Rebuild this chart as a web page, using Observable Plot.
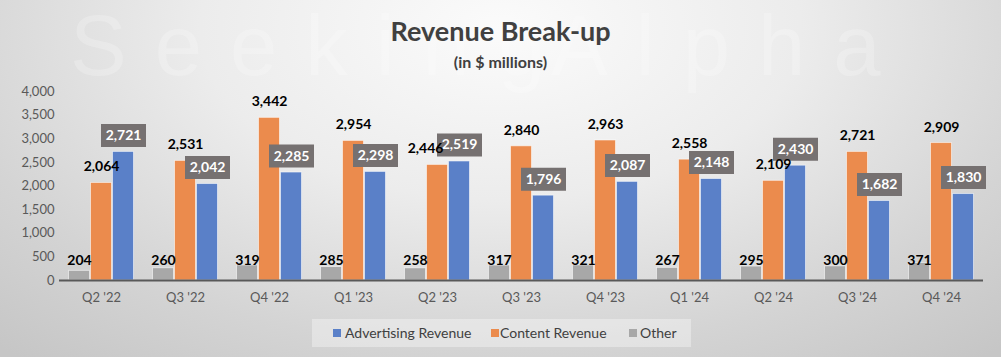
<!DOCTYPE html>
<html><head><meta charset="utf-8">
<script src="https://cdn.jsdelivr.net/npm/d3@7"></script>
<script src="https://cdn.jsdelivr.net/npm/@observablehq/plot@0.6"></script>
<style>
body{margin:0;}
#wrap{position:relative;width:1001px;height:357px;overflow:hidden;
 background:radial-gradient(ellipse 75% 120% at 50% 8%, #fbfbfb 0%, #ececec 40%, #d4d4d4 75%, #c6c6c6 100%);
 font-family:Lato,"Open Sans",sans-serif;}
#wm{position:absolute;left:70px;top:3px;font-family:"Liberation Sans",Arial,sans-serif;font-size:85px;letter-spacing:28px;word-spacing:-69px;line-height:85px;color:rgba(255,255,255,0.22);white-space:nowrap;}
#title{position:absolute;left:0;width:1001px;top:16px;text-align:center;font-weight:bold;font-size:27px;color:#404040;line-height:30px;}
#sub{position:absolute;left:0;width:1001px;top:51px;text-align:center;font-weight:bold;font-size:16px;color:#404040;line-height:22px;}
#chart{position:absolute;left:0;top:80px;}
#legend{position:absolute;left:312px;top:319px;width:379px;height:28px;background:rgba(255,255,255,0.35);font-size:14px;color:#404040;}
.li{position:absolute;top:0;line-height:28px;white-space:nowrap;}
.sq{position:absolute;width:8px;height:8px;top:10px;}
</style></head><body>
<div id="wrap">
 <div id="wm">Seeking Alpha</div>
 <div id="title">Revenue Break-up</div>
 <div id="sub">(in $ millions)</div>
 <div id="chart"></div>
 <div id="legend"></div>
</div>
<script>
const quarters = ["Q2 '22","Q3 '22","Q4 '22","Q1 '23","Q2 '23","Q3 '23","Q4 '23","Q1 '24","Q2 '24","Q3 '24","Q4 '24"];
const advertising = [2721,2042,2285,2298,2519,1796,2087,2148,2430,1682,1830];
const content = [2064,2531,3442,2954,2446,2840,2963,2558,2109,2721,2909];
const other = [204,260,319,285,258,317,321,267,295,300,371];
const seriesOrder = ["Other","Content Revenue","Advertising Revenue"];
const seriesColors = ["#a8a8a8","#eb8b4d","#5a80c8"];
const legendOrder = ["Advertising Revenue","Content Revenue","Other"];
const yTicks = [0,500,1000,1500,2000,2500,3000,3500,4000];

const rows = [];
quarters.forEach((q,i)=>{
  rows.push({quarter:q, series:"Other", value:other[i], other:advertising[i]});
  rows.push({quarter:q, series:"Content Revenue", value:content[i], other:advertising[i]});
  rows.push({quarter:q, series:"Advertising Revenue", value:advertising[i], other:content[i]});
});
const fmt = d3.format(",");
const boxSymbol = {draw(ctx){ ctx.moveTo(-22.5,-11.5); ctx.lineTo(22.5,-11.5); ctx.lineTo(22.5,11.5); ctx.lineTo(-22.5,11.5); ctx.closePath(); }};
const contentRows = rows.filter(d=>d.series==="Content Revenue");
const crowded = d => Math.abs(d.value - d.other) < 150; // label would sit under the advertising box

const chart = Plot.plot({
  width:1001, height:230,
  marginTop:11, marginBottom:30, marginLeft:58, marginRight:16,
  style:{background:"transparent", fontFamily:"Lato, 'Open Sans', sans-serif", fontSize:"13px", color:"#595959", overflow:"visible"},
  fx:{domain:quarters, paddingInner:0.19, paddingOuter:0.095, label:null, axis:"bottom", tickSize:0, tickPadding:12},
  x:{domain:seriesOrder, padding:0, axis:null},
  y:{domain:[0,4000], ticks:yTicks, tickFormat:d=>fmt(d), tickSize:0, tickPadding:13, label:null},
  color:{domain:seriesOrder, range:seriesColors},
  marks:[
    Plot.barY(rows,{fx:"quarter", x:"series", y:"value", fill:"series", stroke:"white", strokeOpacity:0.55, strokeWidth:1, insetLeft:0.5, insetRight:0.5}),
    Plot.ruleY([0],{stroke:"#595959", strokeWidth:2, insetLeft:-8, insetRight:-8}),
    Plot.text(rows.filter(d=>d.series==="Other"),{fx:"quarter", x:"series", frameAnchor:"bottom", text:d=>fmt(d.value), dy:-16, fontWeight:"bold", fontSize:14, fill:"#000"}),
    Plot.dot(rows.filter(d=>d.series==="Advertising Revenue"),{fx:"quarter", x:"series", y:"value", symbol:boxSymbol, fill:"#767171", stroke:"none", dy:-16.5}),
    Plot.text(rows.filter(d=>d.series==="Advertising Revenue"),{fx:"quarter", x:"series", y:"value", text:d=>fmt(d.value), dy:-16.5, fontWeight:"bold", fontSize:14, fill:"#fff"}),
    Plot.text(contentRows.filter(d=>!crowded(d)),{fx:"quarter", x:"series", y:"value", text:d=>fmt(d.value), dy:-16, fontWeight:"bold", fontSize:14, fill:"#000"}),
    Plot.text(contentRows.filter(crowded),{fx:"quarter", x:"series", y:"value", text:d=>fmt(d.value), dy:-16, dx:-12, fontWeight:"bold", fontSize:14, fill:"#000"})
  ]
});
document.getElementById("chart").appendChild(chart);

const legendPos = {"Advertising Revenue":[21,33], "Content Revenue":[179,188], "Other":[317,328]};
const leg = document.getElementById("legend");
legendOrder.forEach(s=>{
  const c = seriesColors[seriesOrder.indexOf(s)];
  const [sx,tx] = legendPos[s];
  const sq = document.createElement("div"); sq.className="sq"; sq.style.left=sx+"px"; sq.style.background=c; leg.appendChild(sq);
  const t = document.createElement("div"); t.className="li"; t.style.left=tx+"px"; t.textContent=s; leg.appendChild(t);
});
</script>
</body></html>
